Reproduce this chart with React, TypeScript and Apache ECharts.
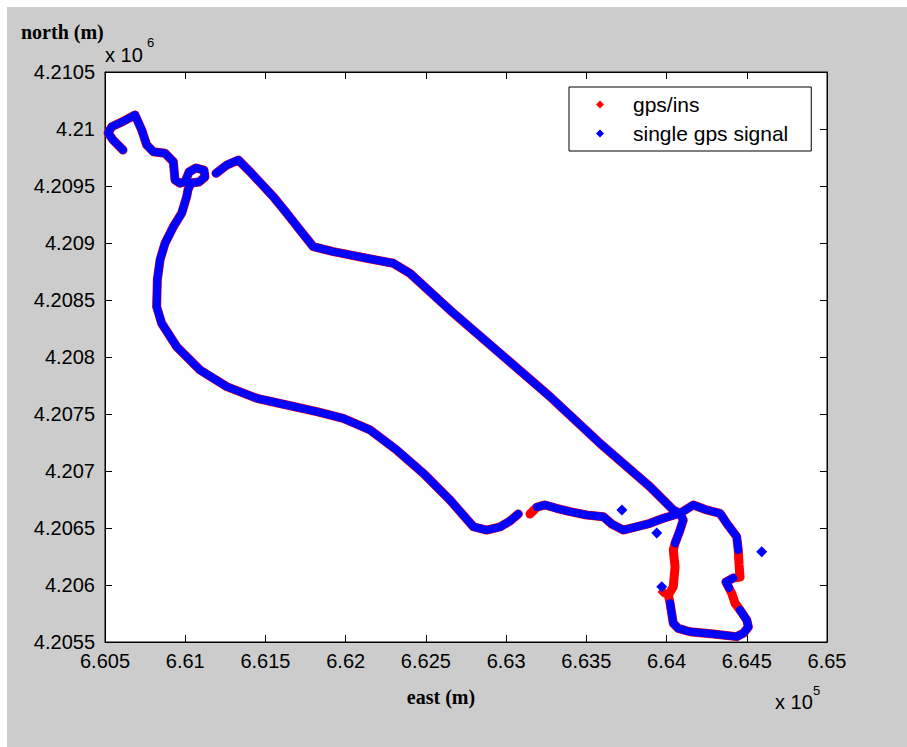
import React, { useEffect, useRef } from "react";
import * as echarts from "echarts";

// axis ranges (metres)
const eastMin = 660500;
const eastMax = 665000;
const northMin = 4205500;
const northMax = 4210500;
const tickStep = 500;

// gps/ins track (red) – west loop part
const gpsInsWest: number[][] = [
  [660612, 4209816], [660550, 4209904], [660519, 4209965], [660542, 4210020], [660593, 4210053],
  [660687, 4210123], [660729, 4209991], [660760, 4209860], [660801, 4209801], [660874, 4209787],
  [660926, 4209713], [660936, 4209553], [660967, 4209524], [660999, 4209538], [661024, 4209623],
  [661067, 4209658], [661117, 4209640], [661123, 4209579], [661086, 4209535], [661036, 4209526],
  [661017, 4209465], [661009, 4209406], [660978, 4209261], [660926, 4209143], [660874, 4208997],
  [660843, 4208851], [660826, 4208675], [660822, 4208441], [660853, 4208296], [660947, 4208090],
  [661092, 4207886], [661259, 4207740], [661446, 4207638], [661633, 4207579], [661820, 4207520],
  [661985, 4207462], [662152, 4207360], [662318, 4207184], [662484, 4206980], [662650, 4206746],
  [662796, 4206511], [662879, 4206482], [662962, 4206509], [663024, 4206561], [663076, 4206623],
];

// gps/ins track (red) – east loop and diagonal
const gpsInsEast: number[][] = [
  [663149, 4206623], [663193, 4206684], [663242, 4206702], [663315, 4206673], [663398, 4206643],
  [663502, 4206614], [663606, 4206599], [663658, 4206535], [663730, 4206482], [663814, 4206511],
  [663897, 4206541], [663980, 4206585], [664084, 4206629], [664167, 4206702], [664250, 4206658],
  [664333, 4206629], [664375, 4206541], [664437, 4206424], [664447, 4206307], [664452, 4206175],
  [664458, 4206070], [664416, 4206061], [664370, 4206026], [664406, 4205927], [664427, 4205840],
  [664458, 4205781], [664500, 4205693], [664510, 4205632], [664478, 4205576], [664437, 4205547],
  [664291, 4205570], [664146, 4205590], [664073, 4205620], [664042, 4205664], [664032, 4205752],
  [664022, 4205840], [664011, 4205912], [664042, 4205985], [664053, 4206161], [664042, 4206307],
  [664053, 4206366], [664084, 4206482], [664104, 4206570], [664084, 4206629], [664042, 4206658],
  [663897, 4206862], [663585, 4207243], [663274, 4207652], [662962, 4208032], [662650, 4208412],
  [662401, 4208734], [662297, 4208822], [662131, 4208866], [661923, 4208924], [661798, 4208968],
  [661715, 4209114], [661633, 4209261], [661549, 4209406], [661404, 4209625], [661331, 4209728],
  [661259, 4209684], [661192, 4209611],
];

const gpsInsStray: number[][] = [[663978, 4205939]];

// single gps signal (blue) – runs between signal gaps
const singleGpsRun1: number[][] = [
  [660612, 4209816], [660550, 4209904], [660519, 4209965], [660542, 4210020], [660593, 4210053],
  [660687, 4210123], [660729, 4209991], [660760, 4209860], [660801, 4209801], [660874, 4209787],
  [660926, 4209713], [660936, 4209553], [660967, 4209524], [660999, 4209538], [661024, 4209623],
  [661067, 4209658], [661117, 4209640], [661123, 4209579], [661086, 4209535], [661036, 4209526],
  [661017, 4209465], [661009, 4209406], [660978, 4209261], [660926, 4209143], [660874, 4208997],
  [660843, 4208851], [660826, 4208675], [660822, 4208441], [660853, 4208296], [660947, 4208090],
  [661092, 4207886], [661259, 4207740], [661446, 4207638], [661633, 4207579], [661820, 4207520],
  [661985, 4207462], [662152, 4207360], [662318, 4207184], [662484, 4206980], [662650, 4206746],
  [662796, 4206511], [662879, 4206482], [662962, 4206509], [663024, 4206561], [663076, 4206623],
];
const singleGpsRun2: number[][] = [
  [663193, 4206684], [663242, 4206702], [663315, 4206673], [663398, 4206643], [663502, 4206614],
  [663606, 4206599], [663658, 4206535], [663730, 4206482], [663814, 4206511], [663897, 4206541],
  [663980, 4206585], [664084, 4206629], [664167, 4206702], [664250, 4206658], [664333, 4206629],
  [664375, 4206541], [664437, 4206424], [664447, 4206307],
];
const singleGpsRun3: number[][] = [[664416, 4206061], [664370, 4206026], [664390, 4205974]];
const singleGpsRun4: number[][] = [
  [664458, 4205781], [664500, 4205693], [664510, 4205632], [664478, 4205576], [664437, 4205547],
  [664291, 4205570], [664146, 4205590], [664073, 4205620], [664042, 4205664], [664032, 4205752],
  [664022, 4205840],
];
const singleGpsRun5: number[][] = [
  [664053, 4206366], [664084, 4206482], [664104, 4206570], [664084, 4206629], [664042, 4206658],
  [663897, 4206862], [663585, 4207243], [663274, 4207652], [662962, 4208032], [662650, 4208412],
  [662401, 4208734], [662297, 4208822], [662131, 4208866], [661923, 4208924], [661798, 4208968],
  [661715, 4209114], [661633, 4209261], [661549, 4209406], [661404, 4209625], [661331, 4209728],
  [661259, 4209684], [661192, 4209611],
];
const singleGpsStray: number[][] = [
  [663722, 4206658], [663939, 4206456], [664593, 4206292], [663970, 4205985],
];

const seriesNames = ["gps/ins", "single gps signal"];
const RED = "#ff0000";
const BLUE = "#0000ff";

export default function App() {
  const ref = useRef<HTMLDivElement>(null);
  useEffect(() => {
    if (!ref.current) return;
    const chart = echarts.init(ref.current, null, { renderer: "svg" });
    const sans = "Liberation Sans, Arial, sans-serif";
    const serif = "Liberation Serif, Times New Roman, serif";

    const track = (name: string, data: number[][], color: string, width: number, z: number) => ({
      type: "line",
      name,
      data,
      symbol: "none",
      showSymbol: false,
      silent: true,
      z,
      itemStyle: { color },
      lineStyle: { color, width, cap: "round", join: "round" },
    });
    const stray = (name: string, data: number[][], color: string, z: number) => ({
      type: "scatter",
      name,
      data,
      symbol: "diamond",
      symbolSize: 11,
      silent: true,
      z,
      itemStyle: { color, opacity: 1 },
    });

    const axisCommon = {
      type: "value",
      splitLine: { show: false },
      axisLine: { show: true, onZero: false, lineStyle: { color: "#000", width: 1 } },
      axisTick: { show: true, inside: true, length: 7, lineStyle: { color: "#000" } },
    };
    const fmt = (scale: number) => (v: number) => String(+(v / scale).toFixed(4));

    chart.setOption({
      animation: false,
      backgroundColor: "#cccccc",
      grid: {
        left: 98,
        top: 65,
        right: 80,
        bottom: 105,
        show: true,
        backgroundColor: "#ffffff",
        borderColor: "#000",
        borderWidth: 1,
        outerBoundsMode: "none",
      },
      xAxis: [
        {
          ...axisCommon,
          position: "bottom",
          min: eastMin,
          max: eastMax,
          interval: tickStep,
          axisLabel: { color: "#000", fontSize: 20, fontFamily: sans, margin: 9, formatter: fmt(1e5) },
        },
        {
          ...axisCommon,
          position: "top",
          min: eastMin,
          max: eastMax,
          interval: tickStep,
          axisLabel: { show: false },
        },
      ],
      yAxis: [
        {
          ...axisCommon,
          position: "left",
          min: northMin,
          max: northMax,
          interval: tickStep,
          axisLabel: { color: "#000", fontSize: 20, fontFamily: sans, margin: 10, formatter: fmt(1e6) },
        },
        {
          ...axisCommon,
          position: "right",
          min: northMin,
          max: northMax,
          interval: tickStep,
          axisLabel: { show: false },
        },
      ],
      legend: {
        left: 562,
        top: 80,
        orient: "vertical",
        data: seriesNames,
        icon: "diamond",
        itemWidth: 8,
        itemHeight: 8,
        itemGap: 8,
        padding: [7, 23, 7, 27],
        backgroundColor: "#ffffff",
        borderColor: "#000",
        borderWidth: 1,
        borderRadius: 0,
        selectedMode: false,
        textStyle: { fontSize: 21, lineHeight: 21, fontFamily: sans, color: "#000", padding: [0, 0, 0, 24] },
      },
      graphic: [
        {
          type: "text",
          x: 14,
          y: 25,
          style: { text: "north (m)", fontSize: 20, fontWeight: "bold", fontFamily: serif, fill: "#000", verticalAlign: "middle" },
        },
        {
          type: "text",
          x: 98,
          y: 48,
          style: { text: "x 10", fontSize: 20, fontFamily: sans, fill: "#000", verticalAlign: "middle" },
        },
        {
          type: "text",
          x: 140,
          y: 35,
          style: { text: "6", fontSize: 13, fontFamily: sans, fill: "#000", verticalAlign: "middle" },
        },
        {
          type: "text",
          x: 434,
          y: 690,
          style: { text: "east (m)", fontSize: 20, fontWeight: "bold", fontFamily: serif, fill: "#000", align: "center", verticalAlign: "middle" },
        },
        {
          type: "text",
          x: 768,
          y: 695,
          style: { text: "x 10", fontSize: 20, fontFamily: sans, fill: "#000", verticalAlign: "middle" },
        },
        {
          type: "text",
          x: 806,
          y: 683,
          style: { text: "5", fontSize: 13, fontFamily: sans, fill: "#000", verticalAlign: "middle" },
        },
      ],
      series: [
        track(seriesNames[0], gpsInsWest, RED, 9, 2),
        track(seriesNames[0], gpsInsEast, RED, 9, 2),
        stray(seriesNames[0], gpsInsStray, RED, 2),
        track(seriesNames[1], singleGpsRun1, BLUE, 8, 3),
        track(seriesNames[1], singleGpsRun2, BLUE, 8, 3),
        track(seriesNames[1], singleGpsRun3, BLUE, 8, 3),
        track(seriesNames[1], singleGpsRun4, BLUE, 8, 3),
        track(seriesNames[1], singleGpsRun5, BLUE, 8, 3),
        stray(seriesNames[1], singleGpsStray, BLUE, 3),
      ],
    });
    return () => chart.dispose();
  }, []);

  return (
    <div style={{ position: "fixed", left: 0, top: 0, width: 907, height: 747, background: "#ffffff" }}>
      <div
        ref={ref}
        style={{ position: "absolute", left: 7, top: 7, width: 900, height: 740, background: "#cccccc" }}
      />
    </div>
  );
}
